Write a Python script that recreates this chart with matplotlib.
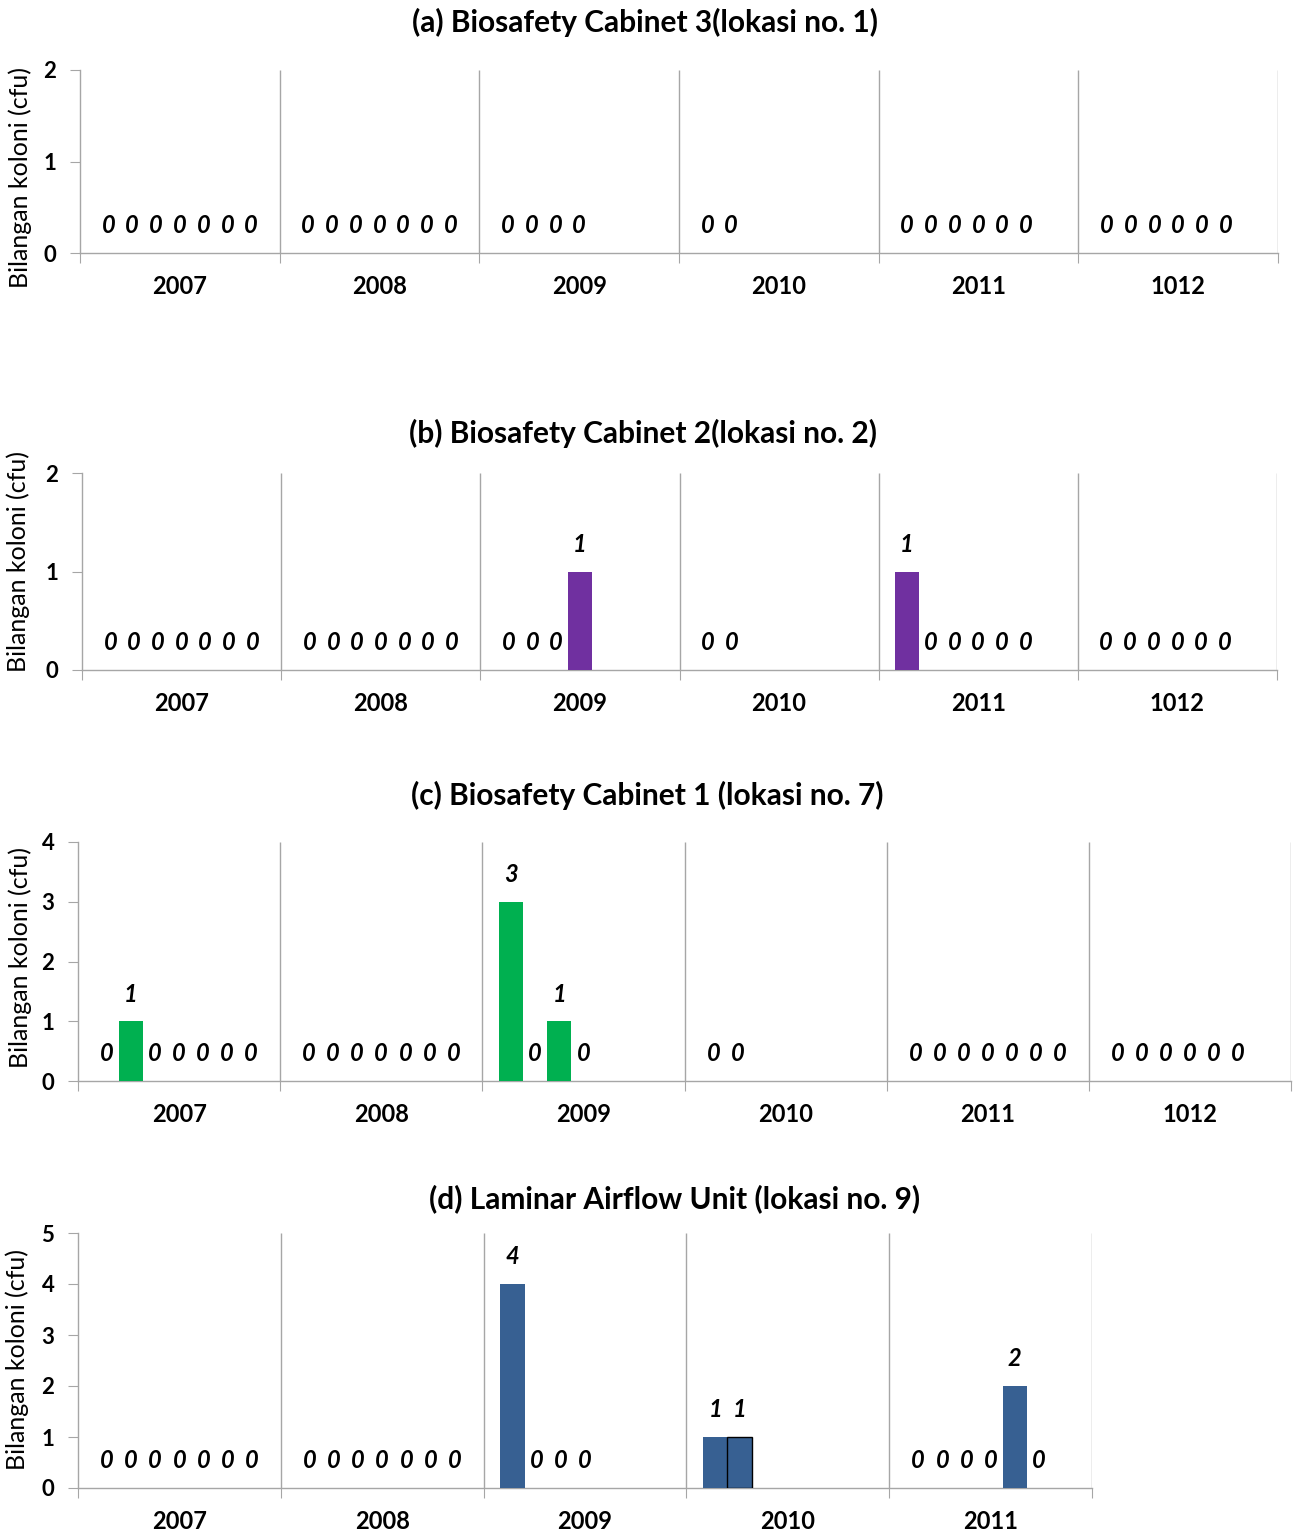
import matplotlib
matplotlib.use("Agg")
import matplotlib.pyplot as plt

plt.rcParams['font.family'] = ['Lato', 'DejaVu Sans']

# ---------------- data ----------------
years_abc = ["2007", "2008", "2009", "2010", "2011", "1012"]
years_d = ["2007", "2008", "2009", "2010", "2011"]

vals_a = [[0, 0, 0, 0, 0, 0, 0],
          [0, 0, 0, 0, 0, 0, 0],
          [0, 0, 0, 0],
          [0, 0],
          [0, 0, 0, 0, 0, 0],
          [0, 0, 0, 0, 0, 0]]
vals_b = [[0, 0, 0, 0, 0, 0, 0],
          [0, 0, 0, 0, 0, 0, 0],
          [0, 0, 0, 1],
          [0, 0],
          [1, 0, 0, 0, 0, 0],
          [0, 0, 0, 0, 0, 0]]
vals_c = [[0, 1, 0, 0, 0, 0, 0],
          [0, 0, 0, 0, 0, 0, 0],
          [3, 0, 1, 0],
          [0, 0],
          [0, 0, 0, 0, 0, 0, 0],
          [0, 0, 0, 0, 0, 0]]
vals_d = [[0, 0, 0, 0, 0, 0, 0],
          [0, 0, 0, 0, 0, 0, 0],
          [4, 0, 0, 0],
          [1, 1],
          [0, 0, 0, 0, 2, 0]]

titles = ["(a) Biosafety Cabinet 3(lokasi no. 1)",
          "(b) Biosafety Cabinet 2(lokasi no. 2)",
          "(c) Biosafety Cabinet 1 (lokasi no. 7)",
          "(d) Laminar Airflow Unit (lokasi no. 9)"]
ylabel = "Bilangan koloni (cfu)"
ymax = [2, 2, 4, 5]

# ---------------- style ----------------
W, H = 1298, 1535
DPI = 100
colors = ["#7030A0", "#7030A0", "#00B050", "#376092"]
grid_col = "#A6A6A6"
# axes boxes in pixels: left, right, top, bottom
boxes = [(80, 1278, 70, 253), (82, 1277, 473, 670),
         (78, 1291, 842, 1081), (78, 1092, 1233, 1488)]
title_pos = [(645, 22), (643, 433), (647, 795), (675, 1199)]
ylab_pos = [(20, 177), (18, 562), (20, 958), (17, 1360)]
slot_w = 1 / 8.4
# bar with black outline: panel index, group index, slot index
outlined = (3, 3, 1)

fig = plt.figure(figsize=(W / DPI, H / DPI), dpi=DPI)

panels = [vals_a, vals_b, vals_c, vals_d]
cats = [years_abc, years_abc, years_abc, years_d]

for p, (vals, cat) in enumerate(zip(panels, cats)):
    l, r, t, b = boxes[p]
    ax = fig.add_axes([l / W, 1 - b / H, (r - l) / W, (b - t) / H])
    n = len(cat)
    for g, grp in enumerate(vals):
        xs = [g + 0.5 + (j - 3) * slot_w for j in range(len(grp))]
        for j, (x, v) in enumerate(zip(xs, grp)):
            if v > 0:
                ec = "black" if (p, g, j) == outlined else colors[p]
                lw = 1.0 if (p, g, j) == outlined else 0
                ax.bar(x, v, width=slot_w, color=colors[p], edgecolor=ec,
                       linewidth=lw, zorder=3)
            ax.annotate(str(v), (x, v), xytext=(0, 19.5), textcoords="offset points",
                        ha="center", va="center", fontsize=17, fontweight="bold",
                        fontstyle="italic", color="black", zorder=4)
    ax.set_xlim(0, n)
    ax.set_ylim(0, ymax[p])
    ax.vlines(range(1, n + 1), 0, ymax[p], color=grid_col, linewidth=1.0, zorder=1)
    for s in ["top", "right"]:
        ax.spines[s].set_visible(False)
    for s in ["left", "bottom"]:
        ax.spines[s].set_color(grid_col)
        ax.spines[s].set_linewidth(1.0)
    ax.set_yticks(range(0, ymax[p] + 1))
    ax.set_yticklabels([str(v) for v in range(0, ymax[p] + 1)],
                       fontsize=16, fontweight="bold")
    ax.tick_params(axis="y", length=7, color=grid_col, pad=10)
    ax.set_xticks(range(0, n + 1))
    ax.set_xticklabels([])
    ax.tick_params(axis="x", which="major", length=7, color=grid_col)
    ax.set_xticks([g + 0.5 for g in range(n)], minor=True)
    ax.set_xticklabels(cat, minor=True, fontsize=17, fontweight="bold")
    ax.tick_params(axis="x", which="minor", length=0, pad=16)
    ax.patch.set_alpha(0)

    tx, ty = title_pos[p]
    fig.text(tx / W, 1 - ty / H, titles[p], ha="center", va="center",
             fontsize=21.5, fontweight="bold")
    lx, ly = ylab_pos[p]
    fig.text(lx / W, 1 - ly / H, ylabel, ha="center", va="center",
             rotation=90, fontsize=18)

fig.savefig("out.png", dpi=DPI)
